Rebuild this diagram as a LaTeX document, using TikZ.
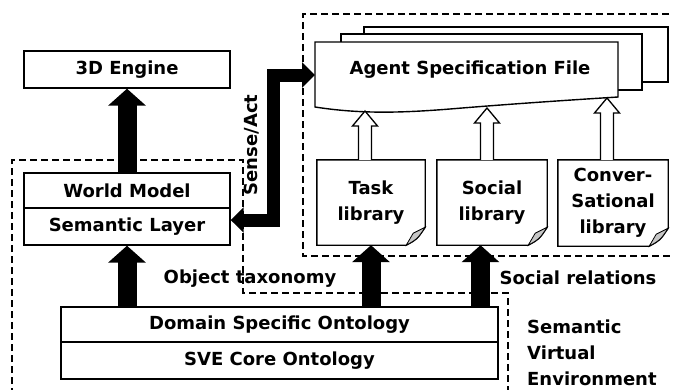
\documentclass[tikz,border=0pt]{standalone}
\usepackage{fontspec}
\setmainfont{DejaVu Sans}
\usetikzlibrary{arrows.meta,calc}
\newcommand\docoutline[1]{%
  \draw[boxln] (#1.south west) -- (#1.north west) -- (#1.north east) -- ($(#1.south east)+(0,-18)$)
     .. controls ($(#1.south east)+(-8,-6)$) .. ($(#1.south east)+(-19,0)$) -- cycle;
  \draw[boxln, line width=0.8pt, fill=gray!45] ($(#1.south east)+(0,-18)$) -- ($(#1.south east)+(-12,-12)$)
     -- ($(#1.south east)+(-19,0)$) .. controls ($(#1.south east)+(-8,-6)$) .. cycle;
}
\newcommand\hollowup[2]{%
  \draw[hollow] ($(#1)+(-6.5,0)$) -- ($(#2)+(-6.5,15)$) -- ($(#2)+(-12.5,15)$) -- (#2)
     -- ($(#2)+(12.5,15)$) -- ($(#2)+(6.5,15)$) -- ($(#1)+(6.5,0)$);
}
\begin{document}
\begin{tikzpicture}[x=1pt,y=-1pt,
  every node/.style={font=\fontsize{18}{26}\selectfont\bfseries, text=black},
  boxln/.style={draw=black, line width=1.4pt, line join=miter},
  box/.style={boxln, inner sep=0pt, align=center},
  lib/.style={inner sep=0pt, align=center, minimum width=108pt, minimum height=85pt},
  dashln/.style={draw=black, line width=1.2pt, dash pattern=on 7pt off 4pt},
  bigarrow/.style={line width=19pt, -{Triangle[length=17pt,width=37pt]}},
  midarrow/.style={line width=13pt, line join=miter, {Triangle[length=13pt,width=25pt]}-{Triangle[length=13pt,width=25pt]}},
  hollow/.style={draw=black, line width=1.3pt, fill=white, line join=miter},
  lbl/.style={inner sep=0pt}
]
\useasboundingbox[fill=white] (0,0) rectangle (673,389);

% dashed regions
\draw[dashln] (12,395) -- (12,160) -- (243,160) -- (243,293) -- (508,293) -- (508,395);
\draw[dashln] (680,14) -- (303,14) -- (303,256) -- (680,256);

% left boxes
\node[box, minimum width=206pt, minimum height=37pt] (eng) at (127,69.5) {3D Engine};
\node[box, minimum width=206pt, minimum height=35pt] (wm) at (127,190.5) {World Model};
\node[box, minimum width=206pt, minimum height=37pt] (sl) at (127,226.5) {Semantic Layer};
\node[box, minimum width=437pt, minimum height=35pt] (dso) at (279.5,324.5) {Domain Specific Ontology};
\node[box, minimum width=437pt, minimum height=37pt] (core) at (279.5,360.5) {SVE Core Ontology};

% agent specification file (stacked sheets)
\draw[boxln, fill=white] (364,27) rectangle (668,82);
\draw[boxln, fill=white] (341,34) rectangle (642,90);
\draw[boxln, fill=white] (315,42) -- (618,42) -- (618,97) .. controls (570,100) and (510,104) .. (450,109)
   .. controls (400,113) and (360,114) .. (315,107) -- cycle;
\node[lbl] (asf) at (470,70) {Agent Specification File};
\coordinate (asfL) at (315,75);

% libraries
\node[lib] (task) at (371,202.5) {Task\\library};
\node[lib, minimum width=110pt] (social) at (492,202.5) {Social\\library};
\node[lib, minimum width=110pt, minimum height=86pt] (conv) at (613,203) {Conver-\\Sational\\library};
\docoutline{task}
\docoutline{social}
\docoutline{conv}

% hollow arrows
\coordinate (tT) at (365,111);
\coordinate (tS) at (487,108);
\coordinate (tC) at (607,98);
\coordinate (bT) at (task.north -| tT);
\coordinate (bS) at (social.north -| tS);
\coordinate (bC) at (conv.north -| tC);
\hollowup{bT}{tT}
\hollowup{bS}{tS}
\hollowup{bC}{tC}

% black arrows
\draw[bigarrow] (wm.north) -- (eng.south);
\draw[bigarrow] (dso.north -| sl.south) -- (sl.south);
\draw[bigarrow] (dso.north -| task.south) -- (task.south);
\coordinate (socx) at (480.5,0);
\draw[bigarrow] (dso.north -| socx) -- (social.south -| socx);
\coordinate (bend) at (273,0);
\draw[midarrow] ($(sl.east)+(0,-6.5)$) -| (bend |- asfL) -- (asfL);

% labels
\node[lbl, rotate=90] (sense) at (252,145) {Sense/Act};
\node[lbl] (objtax) at (250,279) {Object taxonomy};
\node[lbl] (socrel) at (578,278) {Social relations};
\node[lbl, anchor=west, align=left] (sve) at (527,353) {Semantic\\Virtual\\Environment};
\end{tikzpicture}
\end{document}
